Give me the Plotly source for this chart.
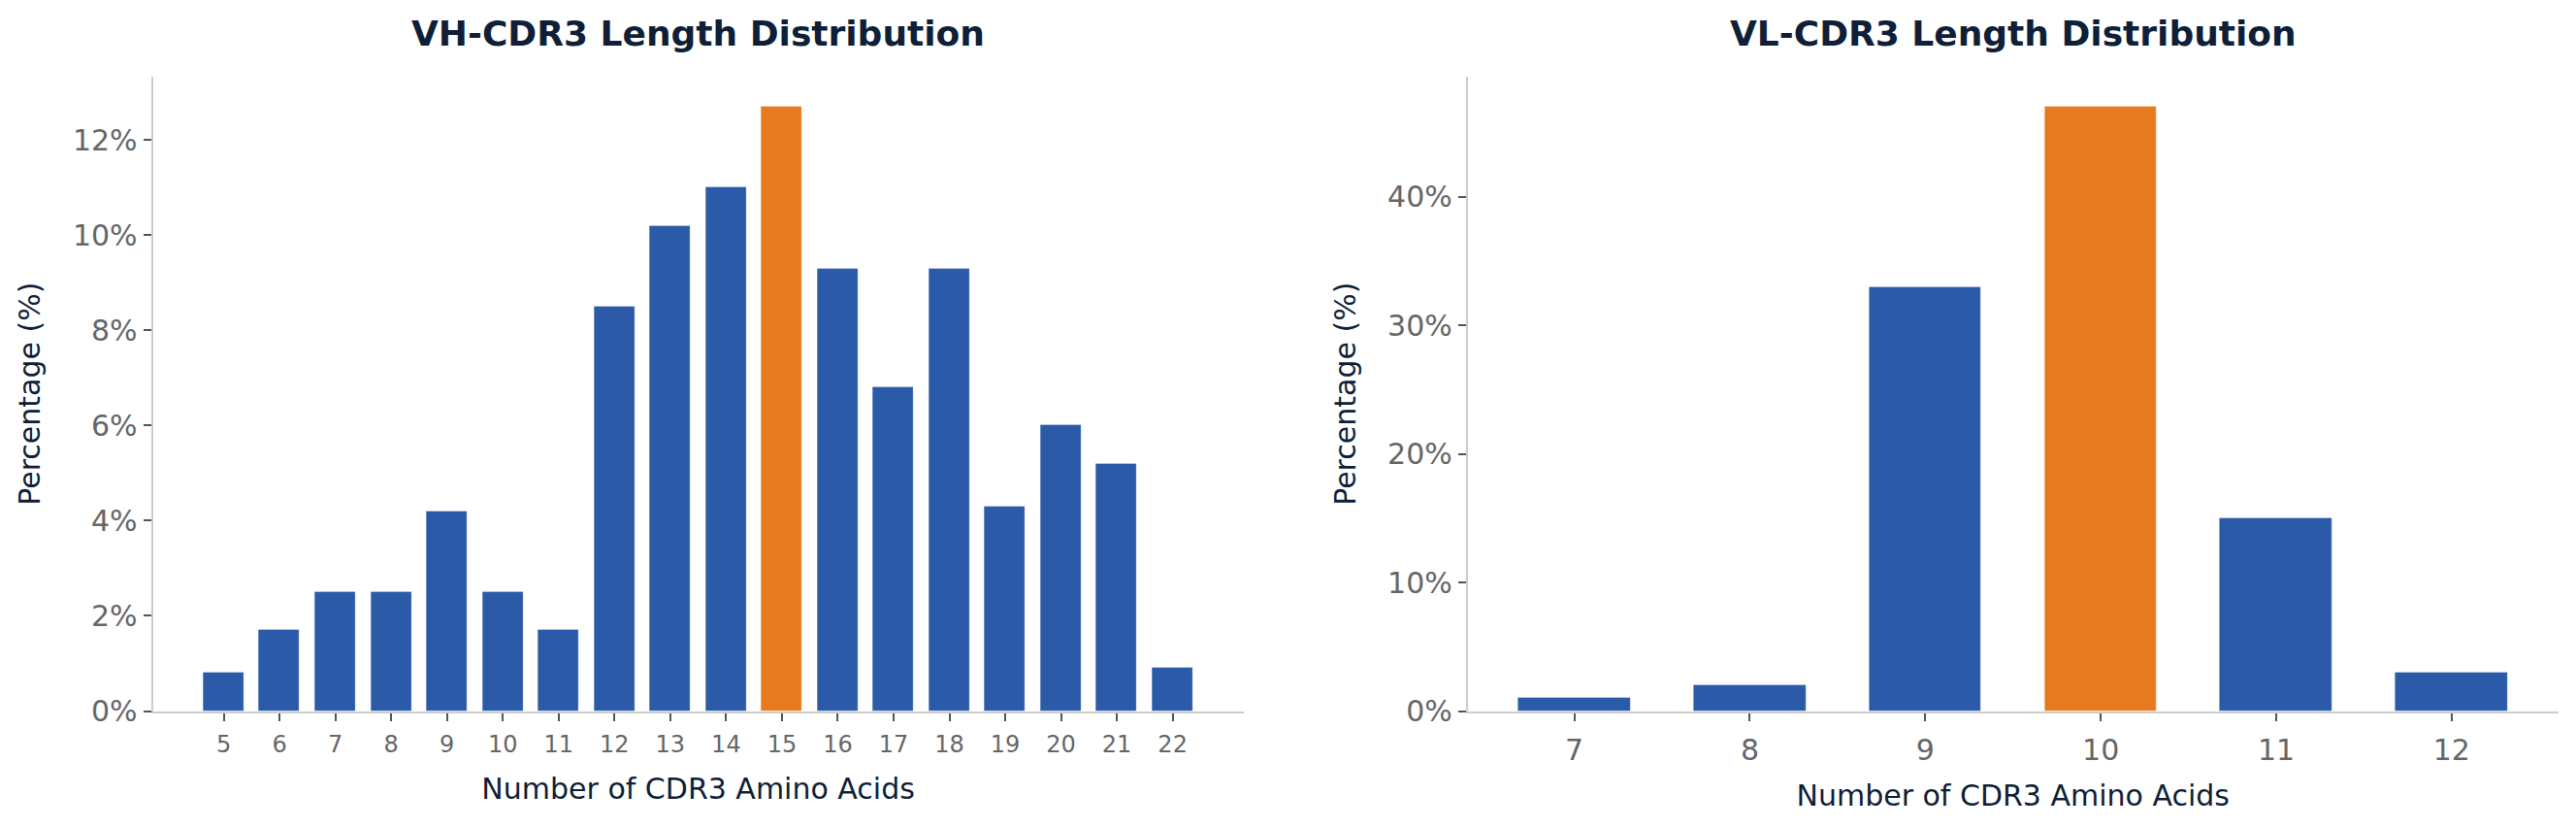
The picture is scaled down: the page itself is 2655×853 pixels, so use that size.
import plotly.graph_objects as go

# CDR3 length distributions (percent of sequences)
vh_lengths = [5, 6, 7, 8, 9, 10, 11, 12, 13, 14, 15, 16, 17, 18, 19, 20, 21, 22]
vh_percent = [0.8, 1.7, 2.5, 2.5, 4.2, 2.5, 1.7, 8.5, 10.2, 11.0, 12.7, 9.3, 6.8, 9.3, 4.3, 6.0, 5.2, 0.9]

vl_lengths = [7, 8, 9, 10, 11, 12]
vl_percent = [1.0, 2.0, 33.0, 47.0, 15.0, 3.0]

BLUE = "#2B5BA8"
ORANGE = "#E67A1E"
NAVY = "#0F1F38"
TICK_GREY = "#666666"
SPINE = "#CCCCCC"
FONT = "DejaVu Sans"

# page body keeps its 8px default margin, so the figure is sized to fit inside it
W, H = 2639, 837
LEFT_DOM = [0.0567, 0.4826]
RIGHT_DOM = [0.5702, 0.9961]
Y_DOM = [0.1344, 0.9152]


def bar_colors(values):
    top = max(values)
    return [ORANGE if v == top else BLUE for v in values]


def x_span(cats, width):
    lo = cats[0] - width / 2
    hi = cats[-1] + width / 2
    pad = 0.05 * (hi - lo)
    return [lo - pad, hi + pad]


fig = go.Figure()

fig.add_trace(go.Bar(
    x=vh_lengths, y=vh_percent, width=0.73,
    marker=dict(color=bar_colors(vh_percent), line=dict(color="rgba(255,255,255,0.3)", width=1)),
    xaxis="x", yaxis="y", showlegend=False,
))

fig.add_trace(go.Bar(
    x=vl_lengths, y=vl_percent, width=0.64,
    marker=dict(color=bar_colors(vl_percent), line=dict(color="rgba(255,255,255,0.3)", width=1)),
    xaxis="x2", yaxis="y2", showlegend=False,
))

axis_common = dict(
    showline=True, linecolor=SPINE, linewidth=2, mirror=False,
    showgrid=False, zeroline=False,
    ticks="outside", ticklen=8, tickwidth=2, tickcolor="#555555",
    automargin=False,
)
title_font = dict(family=FONT, size=30, color=NAVY)
title_y = 1 - 27 / H

fig.update_layout(
    width=W, height=H,
    margin=dict(l=0, r=0, t=0, b=0),
    plot_bgcolor="white", paper_bgcolor="white",
    bargap=0,
    xaxis=dict(
        axis_common, domain=LEFT_DOM, anchor="y",
        range=x_span(vh_lengths, 0.76), tickmode="array", tickvals=vh_lengths,
        tickfont=dict(family=FONT, size=24, color=TICK_GREY), ticklabelstandoff=4,
        title=dict(text="Number of CDR3 Amino Acids", font=title_font, standoff=22),
    ),
    yaxis=dict(
        axis_common, domain=Y_DOM, anchor="x",
        range=[0, max(vh_percent) * 1.05], dtick=2, ticksuffix="%",
        tickfont=dict(family=FONT, size=30, color=TICK_GREY),
        title=dict(text="Percentage (%)", font=title_font, standoff=24),
    ),
    xaxis2=dict(
        axis_common, domain=RIGHT_DOM, anchor="y2",
        range=x_span(vl_lengths, 0.65), tickmode="array", tickvals=vl_lengths,
        tickfont=dict(family=FONT, size=30, color=TICK_GREY), ticklabelstandoff=4,
        title=dict(text="Number of CDR3 Amino Acids", font=title_font, standoff=20),
    ),
    yaxis2=dict(
        axis_common, domain=Y_DOM, anchor="x2",
        range=[0, max(vl_percent) * 1.05], dtick=10, ticksuffix="%",
        tickfont=dict(family=FONT, size=30, color=TICK_GREY),
        title=dict(text="Percentage (%)", font=title_font, standoff=24),
    ),
    annotations=[
        dict(text="<b>VH-CDR3 Length Distribution</b>", xref="paper", yref="paper",
             x=sum(LEFT_DOM) / 2, y=title_y, xanchor="center", yanchor="middle",
             showarrow=False, font=dict(family=FONT, size=36, color=NAVY)),
        dict(text="<b>VL-CDR3 Length Distribution</b>", xref="paper", yref="paper",
             x=sum(RIGHT_DOM) / 2, y=title_y, xanchor="center", yanchor="middle",
             showarrow=False, font=dict(family=FONT, size=36, color=NAVY)),
    ],
)

fig.write_html("out.html")
